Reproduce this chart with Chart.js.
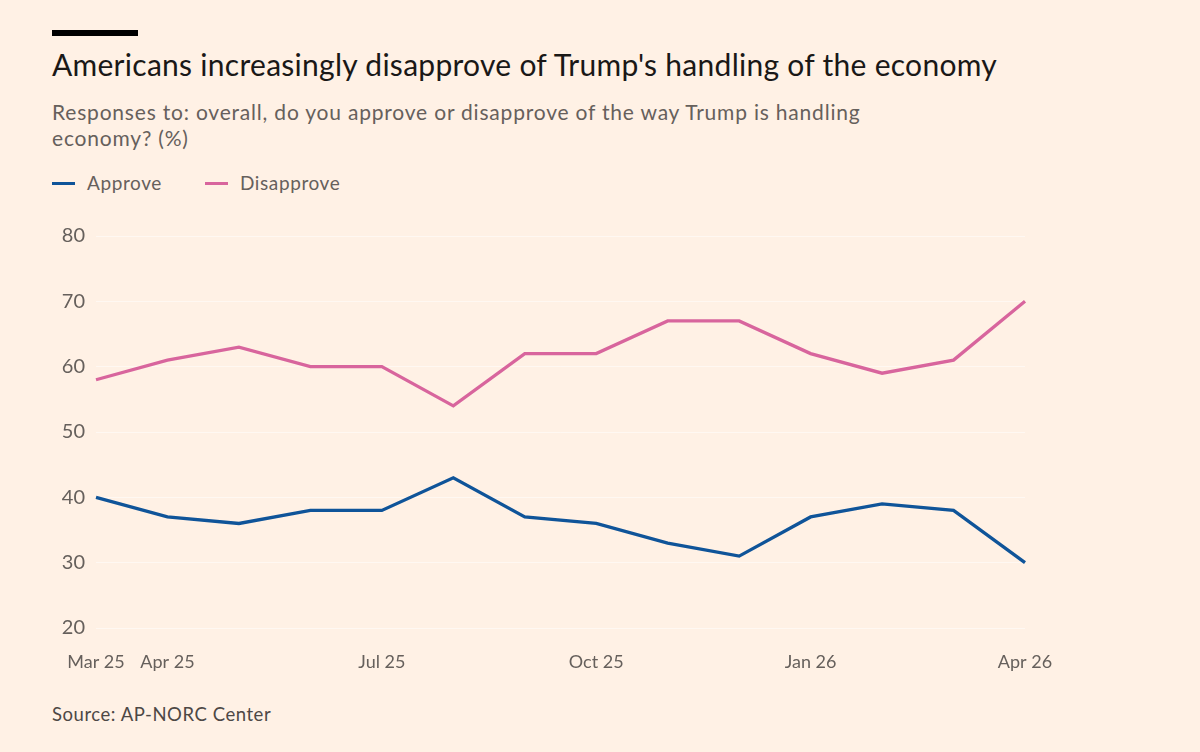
<!DOCTYPE html>
<html>
<head>
<meta charset="utf-8">
<script src="https://cdn.jsdelivr.net/npm/chart.js@4"></script>
<style>
  html, body { margin:0; padding:0; background:#FFF1E5; width:1200px; height:752px; overflow:hidden; font-family: Lato, "Open Sans", sans-serif; }
  .bar { position:absolute; left:52px; top:30px; width:86px; height:6px; background:#000; }
  .title { position:absolute; left:52px; top:46px; font-size:30px; letter-spacing:0.28px; color:#1a1817; white-space:nowrap; }
  .sub { position:absolute; left:52px; top:99px; font-size:21px; letter-spacing:0.8px; line-height:26px; color:#66605c; white-space:nowrap; }
  .legend { position:absolute; top:171px; left:52px; font-size:19px; letter-spacing:0.6px; color:#66605c; }
  .legend span.item { position:absolute; white-space:nowrap; top:0; }
  .legend i { position:absolute; top:11px; width:23px; height:3px; }
  .legend b { font-weight:normal; position:absolute; left:35px; top:0; }
  .source { position:absolute; left:52px; top:703px; font-size:18.5px; letter-spacing:0.55px; color:#4d4845; white-space:nowrap; }
  #wrap { position:absolute; left:0; top:200px; width:1200px; height:480px; }
</style>
</head>
<body>
<div class="bar"></div>
<div class="title">Americans increasingly disapprove of Trump's handling of the economy</div>
<div class="sub">Responses to: overall, do you approve or disapprove of the way Trump is handling<br>economy? (%)</div>
<div class="legend">
  <span class="item" style="left:0"><i style="background:#0f5499"></i><b>Approve</b></span>
  <span class="item" style="left:153px"><i style="background:#d8659d"></i><b>Disapprove</b></span>
</div>
<div id="wrap"><canvas id="c"></canvas></div>
<div class="source">Source: AP-NORC Center</div>
<script>
const months = ["Mar 25","Apr 25","May 25","Jun 25","Jul 25","Aug 25","Sep 25","Oct 25","Nov 25","Dec 25","Jan 26","Feb 26","Mar 26","Apr 26"];
const shownTicks = ["Mar 25","Apr 25","Jul 25","Oct 25","Jan 26","Apr 26"];
const approve =    [40,37,36,38,38,43,37,36,33,31,37,39,38,30];
const disapprove = [58,61,63,60,60,54,62,62,67,67,62,59,61,70];
const yTicks = [20,30,40,50,60,70,80];

new Chart(document.getElementById('c'), {
  type: 'line',
  data: {
    labels: months,
    datasets: [
      { label: 'Approve', data: approve, borderColor: '#0f5499', borderWidth: 3.3, pointRadius: 0, tension: 0 },
      { label: 'Disapprove', data: disapprove, borderColor: '#d8659d', borderWidth: 3.3, pointRadius: 0, tension: 0 }
    ]
  },
  options: {
    responsive: true,
    maintainAspectRatio: false,
    animation: false,
    layout: { padding: { left: 55, right: 175, top: 36, bottom: 0 } },
    plugins: { legend: { display: false }, tooltip: { enabled: false } },
    scales: {
      x: {
        offset: false,
        grid: { display: false },
        border: { display: false },
        ticks: {
          autoSkip: false, maxRotation: 0, padding: 15,
          color: '#66605c', font: { family: 'Lato', size: 18 },
          callback: function(v) { const l = months[v]; return shownTicks.includes(l) ? l : ''; }
        },
        afterFit: function(s) { s.height = 52; }
      },
      y: {
        min: 20, max: 80,
        afterBuildTicks: function(s) { s.ticks = yTicks.map(v => ({ value: v })); },
        grid: { color: 'rgba(255,255,255,0.5)', drawTicks: false },
        border: { display: false },
        ticks: { crossAlign: 'near', padding: 11, color: '#66605c', font: { family: 'Lato', size: 20 } },
        afterFit: function(s) { s.width = 41; }
      }
    }
  }
});
</script>
</body>
</html>
